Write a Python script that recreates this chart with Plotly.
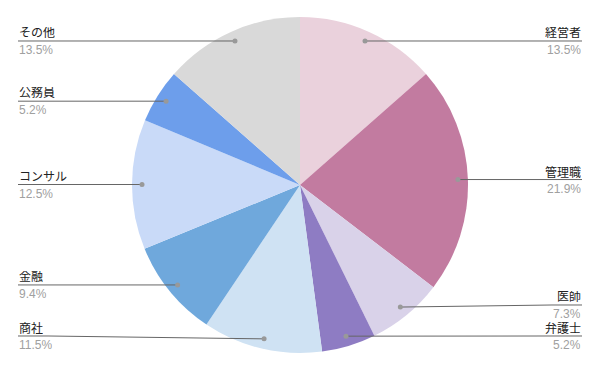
import math
import plotly.graph_objects as go

labels = ["経営者", "管理職", "医師", "弁護士", "商社", "金融", "コンサル", "公務員", "その他"]
values = [13.5, 21.9, 7.3, 5.2, 11.5, 9.4, 12.5, 5.2, 13.5]
colors = ["#EAD1DC", "#C27BA0", "#D9D2E9", "#8E7CC3", "#CFE2F3",
          "#6FA8DC", "#C9DAF8", "#6D9EEB", "#D9D9D9"]

W, H = 600, 371
CX, CY, R = 300, 185, 168
DOT_R = 158
LEFT_X, RIGHT_X = 18, 582
MAX_Y, GAP = 336, 31
FONT = "Arial, 'Liberation Sans', 'Noto Sans CJK JP', sans-serif"

fig = go.Figure(go.Pie(
    labels=labels, values=values, sort=False, direction="clockwise", rotation=0,
    marker=dict(colors=colors, line=dict(width=0)),
    textinfo="none", hoverinfo="label+percent", showlegend=False,
    domain=dict(x=[(CX - R) / W, (CX + R) / W], y=[1 - (CY + R) / H, 1 - (CY - R) / H]),
))

total = sum(values)
items = []
cum = 0
for lab, v in zip(labels, values):
    mid = (cum + v / 2) / total * 2 * math.pi
    cum += v
    dx = CX + DOT_R * math.sin(mid)
    dy = CY - DOT_R * math.cos(mid)
    side = "right" if math.sin(mid) >= 0 else "left"
    items.append(dict(label=lab, value=v, dx=dx, dy=dy, side=side, ly=dy))

# resolve label collisions from the bottom up on each side
for side in ("left", "right"):
    group = sorted([it for it in items if it["side"] == side], key=lambda it: -it["dy"])
    limit = MAX_Y
    for it in group:
        it["ly"] = min(it["dy"], limit)
        limit = it["ly"] - GAP

def px(x):
    return x / W

def py(y):
    return 1 - y / H

shapes = []
annotations = []
for it in items:
    ly = it["ly"]
    if it["side"] == "right":
        knee = RIGHT_X - 30
        pts = [(it["dx"], it["dy"]), (knee, ly), (RIGHT_X, ly)]
        ax, anchor = RIGHT_X, "right"
    else:
        knee = LEFT_X + 30
        pts = [(it["dx"], it["dy"]), (knee, ly), (LEFT_X, ly)]
        ax, anchor = LEFT_X, "left"
    path = "M " + " L ".join(f"{px(x):.5f},{py(y):.5f}" for x, y in pts)
    shapes.append(dict(type="path", xref="paper", yref="paper", path=path,
                       line=dict(color="#666666", width=1)))
    shapes.append(dict(type="circle", xref="paper", yref="paper",
                       x0=px(it["dx"] - 2.5), x1=px(it["dx"] + 2.5),
                       y0=py(it["dy"] + 2.5), y1=py(it["dy"] - 2.5),
                       fillcolor="#999999", line=dict(width=0)))
    annotations.append(dict(x=px(ax), y=py(ly - 8), xref="paper", yref="paper",
                            text=it["label"], showarrow=False, xanchor=anchor,
                            yanchor="middle", height=12, borderpad=0,
                            font=dict(size=12, color="#222222", family=FONT)))
    annotations.append(dict(x=px(ax), y=py(ly + 9), xref="paper", yref="paper",
                            text=f"{it['value']:.1f}%", showarrow=False, xanchor=anchor,
                            yanchor="middle", height=12, borderpad=0,
                            font=dict(size=12, color="#A0A0A0", family=FONT)))

fig.update_layout(
    width=W, height=H, margin=dict(l=0, r=0, t=0, b=0),
    paper_bgcolor="white", plot_bgcolor="white",
    shapes=shapes, annotations=annotations,
)

fig.write_html("out.html")
